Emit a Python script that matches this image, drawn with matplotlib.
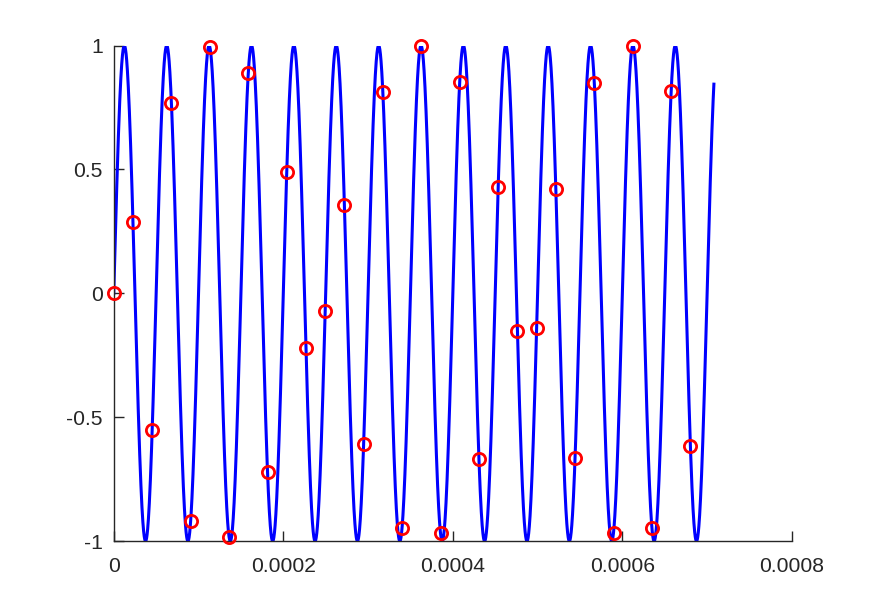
import numpy as np
import matplotlib
matplotlib.use("Agg")
import matplotlib.pyplot as plt

# Signal parameters (sine of 20 kHz sampled at 44.1 kHz)
freq_hz = 20000.0
sample_rate = 44100.0
t_end = 0.000708

sample_values = [0.0, 0.288, -0.551, 0.768, -0.920, 0.994, -0.984, 0.890,
                 -0.721, 0.491, -0.219, -0.071, 0.355, -0.609, 0.812, -0.946,
                 0.999, -0.968, 0.855, -0.669, 0.428, -0.150, -0.141, 0.421,
                 -0.664, 0.851, -0.966, 1.000, -0.948, 0.817, -0.616]
sample_times = [n / sample_rate for n in range(len(sample_values))]

xticks = [0, 0.0002, 0.0004, 0.0006, 0.0008]
xtick_labels = ["0", "0.0002", "0.0004", "0.0006", "0.0008"]
yticks = [-1, -0.5, 0, 0.5, 1]
ytick_labels = ["-1", "-0.5", "0", "0.5", "1"]

t = np.linspace(0, t_end, 4000)
y = np.sin(2 * np.pi * freq_hz * t)

plt.rcParams['font.family'] = ['Liberation Sans', 'DejaVu Sans']
fig = plt.figure(figsize=(8.75, 6.08), dpi=100)
ax = fig.add_axes([0.13, 0.11, 0.775, 0.815])

ax.plot(t, y, color='#0000ff', linewidth=2.2, zorder=2)
ax.plot(sample_times, sample_values, linestyle='none', marker='o',
        markersize=8.8, markerfacecolor='none', markeredgecolor='#ff0000',
        markeredgewidth=2, zorder=3, clip_on=False)

ax.set_xlim(0, 0.0008)
ax.set_ylim(-1, 1)
ax.set_xticks(xticks)
ax.set_xticklabels(xtick_labels)
ax.set_yticks(yticks)
ax.set_yticklabels(ytick_labels)

for s in ['top', 'right']:
    ax.spines[s].set_visible(False)
for s in ['left', 'bottom']:
    ax.spines[s].set_color('#262626')
    ax.spines[s].set_linewidth(1.0)
ax.tick_params(direction='in', length=7, width=1, colors='#262626',
               labelsize=15.2)
ax.tick_params(axis='x', pad=11.5)
ax.tick_params(axis='y', pad=8)

fig.savefig("out.png", dpi=100)
